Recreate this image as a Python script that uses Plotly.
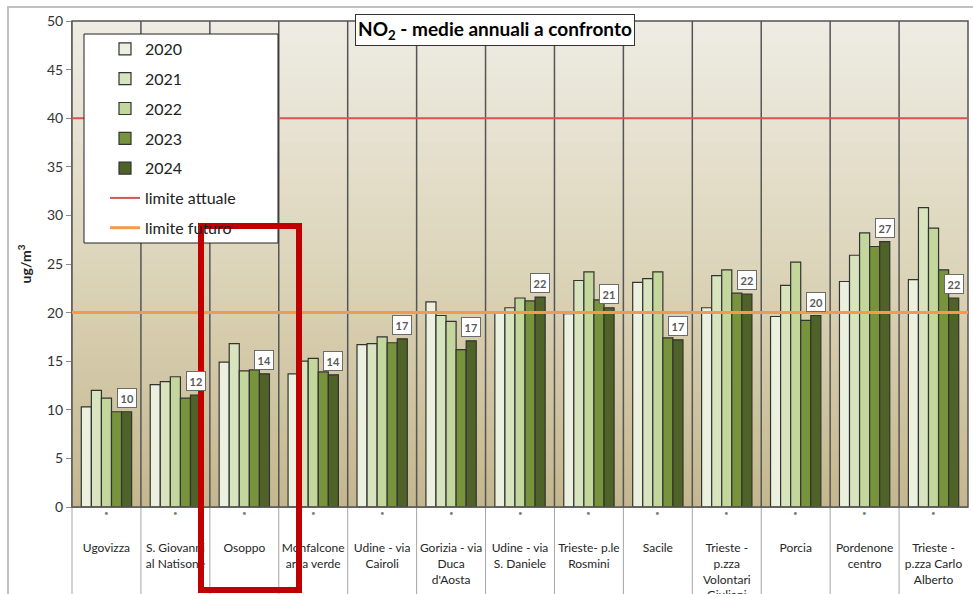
import math
import plotly.graph_objects as go

# ---------------- data ----------------
categories = [
    "Ugovizza", "S. Giovanni<br>al Natisone", "Osoppo", "Monfalcone<br>area verde",
    "Udine - via<br>Cairoli", "Gorizia - via<br>Duca<br>d'Aosta", "Udine - via<br>S. Daniele",
    "Trieste- p.le<br>Rosmini", "Sacile", "Trieste -<br>p.zza<br>Volontari<br>Giuliani",
    "Porcia", "Pordenone<br>centro", "Trieste -<br>p.zza Carlo<br>Alberto",
]
years = ["2020", "2021", "2022", "2023", "2024"]
v2020 = [10.3, 12.6, 14.9, 13.7, 16.7, 21.1, 20.0, 19.9, 23.1, 20.5, 19.6, 23.2, 23.4]
v2021 = [12.0, 12.9, 16.8, 15.0, 16.8, 19.7, 20.5, 23.3, 23.5, 23.8, 22.8, 25.9, 30.8]
v2022 = [11.2, 13.4, 14.0, 15.3, 17.5, 19.1, 21.5, 24.2, 24.2, 24.4, 25.2, 28.2, 28.7]
v2023 = [9.8, 11.2, 14.1, 13.9, 16.9, 16.2, 21.2, 21.3, 17.4, 22.0, 19.2, 26.8, 24.4]
v2024 = [9.8, 11.5, 13.7, 13.6, 17.3, 17.1, 21.6, 20.5, 17.2, 21.9, 19.7, 27.3, 21.5]
limite_attuale = 40
limite_futuro = 20
y_ticks = [0, 5, 10, 15, 20, 25, 30, 35, 40, 45, 50]

series = [v2020, v2021, v2022, v2023, v2024]
colors = ["#EBF1DE", "#D7E4BD", "#C3D69B", "#77933C", "#4F6228"]

FONT = "Lato"
BARGAP = 0.27
L, R, T, B = 72, 5, 21, 87
PW, PH = 973 - L - R, 594 - T - B


def px_x(p):
    return (p - L) / PW


def px_y(p):
    return (594 - B - p) / PH


fig = go.Figure()
for yr, vals, col in zip(years, series, colors):
    fig.add_trace(go.Bar(
        x=categories, y=vals, name=yr, legendgroup=yr,
        marker=dict(color=col, line=dict(color="#333333", width=1.2)),
        hoverinfo="skip",
    ))

shapes = []
# background gradient of plot area (style only)
top_c = (238, 236, 228)
mid_c = (221, 213, 186)
bot_c = (196, 183, 142)
N = 80
for k in range(N):
    t = (k + 0.5) / N  # 0 bottom -> 1 top
    if t >= 0.5:
        s = (t - 0.5) / 0.5
        c = tuple(int(round(mid_c[j] + (top_c[j] - mid_c[j]) * s)) for j in range(3))
    else:
        s = t / 0.5
        c = tuple(int(round(bot_c[j] + (mid_c[j] - bot_c[j]) * s)) for j in range(3))
    shapes.append(dict(type="rect", xref="paper", yref="paper", x0=0, x1=1,
                       y0=k / N, y1=(k + 1) / N + 0.002, line=dict(width=0),
                       fillcolor="rgb(%d,%d,%d)" % c, layer="below"))

# category separators
n = len(categories)
for i in range(n - 1):
    shapes.append(dict(type="line", xref="x", yref="paper", x0=i + 0.5, x1=i + 0.5,
                       y0=0, y1=1, line=dict(color="#555555", width=1.5), layer="below"))
    shapes.append(dict(type="line", xref="x", yref="paper", x0=i + 0.5, x1=i + 0.5,
                       y0=-0.25, y1=0, line=dict(color="#a6a6a6", width=1), layer="below"))
# left line through label area
shapes.append(dict(type="line", xref="paper", yref="paper", x0=0, x1=0, y0=-0.25, y1=0,
                   line=dict(color="#a6a6a6", width=1)))
# plot border
shapes.append(dict(type="rect", xref="paper", yref="paper", x0=0, x1=1, y0=0, y1=1,
                   line=dict(color="#555555", width=1.5)))

# limit lines (with legend entries)
shapes.append(dict(type="line", xref="paper", yref="y", x0=0, x1=1,
                   y0=limite_attuale, y1=limite_attuale,
                   line=dict(color="#D9534F", width=2), name="limite attuale",
                   showlegend=True, legendgroup="attuale"))
shapes.append(dict(type="line", xref="paper", yref="y", x0=0, x1=1,
                   y0=limite_futuro, y1=limite_futuro,
                   line=dict(color="#F39A4E", width=3), name="limite futuro",
                   showlegend=True, legendgroup="futuro"))

# legend box
shapes.append(dict(type="rect", xref="paper", yref="paper",
                   x0=px_x(84), x1=px_x(278), y0=px_y(243), y1=px_y(34),
                   fillcolor="white", line=dict(color="#222222", width=1)))

# outer chart frame
shapes.append(dict(type="rect", xref="paper", yref="paper",
                   x0=px_x(8), x1=px_x(990), y0=px_y(640), y1=px_y(7),
                   line=dict(color="#c0c0c0", width=2)))
# red highlight rectangle
shapes.append(dict(type="rect", xref="paper", yref="paper",
                   x0=px_x(201), x1=px_x(299), y0=px_y(590), y1=px_y(226),
                   line=dict(color="#C00000", width=6)))

annotations = []
# value labels on 2024 bars
off = (1 - BARGAP) * 0.4
for i, v in enumerate(v2024):
    annotations.append(dict(
        x=i + off, y=v, xref="x", yref="y", text="<b>%d</b>" % math.floor(v + 0.5),
        showarrow=False, yanchor="bottom", yshift=4,
        font=dict(family=FONT, size=11, color="#595959"),
        bgcolor="white", bordercolor="#6b6b6b", borderwidth=1, borderpad=2.5,
    ))
# dots under each category
for i in range(n):
    annotations.append(dict(x=i, y=px_y(520), xref="x", yref="paper", text="•",
                            showarrow=False, font=dict(family=FONT, size=8, color="#808080")))
# title box
annotations.append(dict(
    x=px_x(495), y=px_y(30), xref="paper", yref="paper", xanchor="center", yanchor="middle",
    text="<b>NO<sub>2</sub> - medie annuali a confronto</b>", showarrow=False,
    font=dict(family=FONT, size=19, color="black"),
    bgcolor="white", bordercolor="#333333", borderwidth=1, borderpad=2,
))

fig.update_layout(
    width=973, height=594,
    margin=dict(l=L, r=R, t=T, b=B),
    paper_bgcolor="white", plot_bgcolor="rgba(0,0,0,0)",
    barmode="group", bargap=BARGAP, bargroupgap=0,
    font=dict(family=FONT, color="#333333"),
    shapes=shapes, annotations=annotations,
    showlegend=True,
    legend=dict(
        x=px_x(105), y=px_y(32), xanchor="left", yanchor="top",
        bgcolor="rgba(0,0,0,0)", borderwidth=0,
        font=dict(family=FONT, size=16, color="#222222"),
        tracegroupgap=6, traceorder="grouped",
    ),
    xaxis=dict(
        range=[-0.5, n - 0.5], showgrid=False, showline=True, linecolor="#8c8c8c",
        ticks="", tickfont=dict(family=FONT, size=12, color="#262626"),
        ticklabelstandoff=30, fixedrange=True, automargin=False,
    ),
    yaxis=dict(
        range=[0, 50], tickvals=y_ticks, showgrid=False, zeroline=False,
        showline=True, linecolor="#8c8c8c", ticks="outside", ticklen=5, tickcolor="#8c8c8c",
        tickfont=dict(family=FONT, size=14, color="#333333"), automargin=False,
        title=dict(text="<b>ug/m<sup>3</sup></b>", font=dict(family=FONT, size=14, color="#222222"),
                   standoff=12),
    ),
)

fig.write_html("out.html")
